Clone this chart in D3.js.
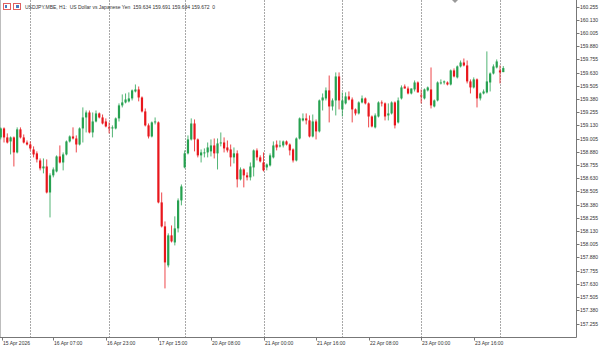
<!DOCTYPE html>
<html>
<head>
<meta charset="utf-8">
<style>
    body { margin: 0; background: #fff; }
    svg { display: block; }
    .lbl { font-family: 'Liberation Sans', Arial, sans-serif; font-size: 5px; fill: #333; }
</style>
</head>
<body>
<svg width="600" height="347"></svg>

<script src="https://d3js.org/d3.v7.min.js"></script>
<script>
    // USDJPY H1 candles, 15 Apr 15:00 .. 24 Apr 01:00 (bar index = position)
    let opens = [159.016,159.101,159.016,158.978,159.016,158.874,159.092,159.016,158.968,158.949,
        158.902,158.865,158.798,158.723,158.741,158.495,158.657,158.694,158.836,158.779,
        158.855,158.978,159.025,159.006,158.949,159.101,159.205,159.252,159.063,159.167,
        159.243,159.205,159.167,159.111,159.101,159.101,159.196,159.319,159.347,159.357,
        159.385,159.451,159.470,159.394,159.262,159.130,159.025,159.158,159.158,158.401,
        158.174,157.805,158.089,158.022,158.155,158.420,158.732,158.865,158.997,159.148,
        158.997,158.846,158.865,158.874,158.884,158.940,158.865,158.959,158.968,158.921,
        158.902,158.827,158.865,158.619,158.713,158.657,158.638,158.732,158.893,158.827,
        158.779,158.732,158.751,158.827,158.949,158.931,158.940,158.978,158.949,158.902,
        158.798,159.006,159.177,159.196,159.177,159.025,159.167,159.073,159.366,159.385,
        159.461,159.309,159.366,159.593,159.281,159.338,159.404,159.375,159.281,159.243,
        159.347,159.385,159.338,159.214,159.111,159.214,159.347,159.338,159.224,159.243,
        159.347,159.158,159.385,159.498,159.479,159.432,159.470,159.536,159.413,159.385,
        159.461,159.470,159.309,159.366,159.527,159.536,159.536,159.517,159.650,159.584,
        159.688,159.725,159.697,159.546,159.489,159.565,159.385,159.432,159.442,159.536,
        159.621,159.678,159.650,159.634]

    let highs = [159.111,159.111,159.054,159.025,159.025,159.111,159.111,159.044,158.987,158.978,
        158.931,158.884,158.817,158.817,158.808,158.676,158.732,158.846,158.940,158.874,
        158.987,159.035,159.111,159.035,159.111,159.300,159.271,159.271,159.252,159.271,
        159.252,159.233,159.196,159.158,159.130,159.205,159.338,159.423,159.432,159.442,
        159.470,159.517,159.498,159.404,159.290,159.148,159.167,159.205,159.167,158.495,
        158.221,158.108,158.183,158.269,158.439,158.571,158.893,159.035,159.196,159.186,
        159.006,158.902,158.912,158.968,158.997,159.006,159.006,159.063,159.016,158.987,
        158.949,158.921,158.893,158.732,158.723,158.685,158.779,158.902,158.912,158.846,
        158.874,158.770,158.865,158.978,158.987,158.987,158.987,158.987,158.959,158.912,
        159.016,159.205,159.243,159.243,159.224,159.233,159.186,159.375,159.432,159.489,
        159.602,159.385,159.631,159.631,159.442,159.442,159.451,159.394,159.290,159.357,
        159.413,159.394,159.347,159.224,159.243,159.357,159.366,159.347,159.338,159.357,
        159.357,159.394,159.508,159.517,159.498,159.479,159.555,159.546,159.470,159.479,
        159.498,159.678,159.375,159.546,159.565,159.555,159.546,159.659,159.669,159.697,
        159.744,159.763,159.744,159.565,159.584,159.574,159.442,159.470,159.830,159.631,
        159.707,159.754,159.697,159.691]

    let lows = [158.997,158.968,158.959,158.855,158.741,158.865,159.006,158.959,158.940,158.893,
        158.827,158.779,158.704,158.676,158.486,158.259,158.638,158.685,158.770,158.704,
        158.846,158.968,158.997,158.874,158.940,158.968,159.063,159.054,159.016,159.158,
        159.196,159.139,159.111,159.054,159.016,159.092,159.167,159.300,159.338,159.347,
        159.366,159.442,159.357,159.252,159.120,159.006,159.016,159.139,158.392,158.164,
        157.587,157.786,158.022,157.994,158.117,158.373,158.723,158.855,158.987,158.884,
        158.827,158.779,158.827,158.827,158.836,158.817,158.713,158.931,158.874,158.874,
        158.741,158.770,158.543,158.609,158.543,158.609,158.609,158.647,158.798,158.779,
        158.694,158.704,158.741,158.817,158.893,158.921,158.921,158.940,158.846,158.779,
        158.789,158.997,159.167,159.139,159.016,159.016,158.997,159.063,159.271,159.366,
        159.158,159.271,159.224,159.281,159.214,159.328,159.366,159.158,159.224,159.233,
        159.338,159.328,159.111,159.111,159.101,159.205,159.309,159.177,159.177,159.233,
        159.101,159.148,159.375,159.479,159.423,159.423,159.451,159.442,159.338,159.375,
        159.451,159.290,159.300,159.357,159.517,159.517,159.508,159.508,159.584,159.574,
        159.678,159.688,159.527,159.432,159.479,159.300,159.366,159.423,159.432,159.451,
        159.612,159.669,159.527,159.634]

    let closes = [159.101,159.016,158.968,159.016,158.874,159.092,159.016,158.968,158.949,158.912,
        158.855,158.808,158.723,158.741,158.495,158.657,158.713,158.836,158.779,158.855,
        158.978,159.025,159.006,158.949,159.101,159.205,159.252,159.063,159.167,159.243,
        159.205,159.148,159.120,159.101,159.111,159.196,159.319,159.347,159.375,159.385,
        159.461,159.470,159.394,159.262,159.130,159.025,159.158,159.167,158.401,158.174,
        157.833,158.089,158.032,158.155,158.420,158.552,158.865,158.997,159.148,158.997,
        158.846,158.874,158.874,158.921,158.940,158.865,158.959,158.968,158.912,158.893,
        158.827,158.865,158.619,158.713,158.657,158.638,158.741,158.893,158.827,158.789,
        158.704,158.760,158.846,158.940,158.921,158.940,158.978,158.949,158.893,158.798,
        159.006,159.196,159.196,159.177,159.025,159.167,159.073,159.366,159.394,159.461,
        159.309,159.366,159.593,159.366,159.366,159.404,159.375,159.281,159.243,159.347,
        159.385,159.338,159.214,159.120,159.224,159.347,159.338,159.214,159.243,159.347,
        159.130,159.366,159.489,159.479,159.432,159.479,159.536,159.442,159.404,159.470,
        159.489,159.319,159.366,159.536,159.536,159.546,159.517,159.650,159.593,159.688,
        159.725,159.697,159.546,159.489,159.565,159.385,159.432,159.451,159.546,159.621,
        159.688,159.735,159.631,159.672]

    // bar index of each day's first bar (dashed separators)
    let dayStarts = [9, 33, 56, 80, 104, 128, 152]

    let timeTickIdx = [0, 16, 32, 48, 64, 80, 96, 112, 128, 144]
    let timeTickLabels = ["15 Apr 2026", "16 Apr 07:00", "16 Apr 23:00", "17 Apr 15:00", "20 Apr 08:00",
        "21 Apr 00:00", "21 Apr 16:00", "22 Apr 08:00", "23 Apr 00:00", "23 Apr 16:00"]

    let priceTicks = [160.255, 160.130, 160.005, 159.880, 159.755, 159.630, 159.505, 159.380, 159.255,
        159.130, 159.005, 158.880, 158.755, 158.630, 158.505, 158.380, 158.255, 158.130, 158.005,
        157.880, 157.755, 157.630, 157.505, 157.380, 157.255]

    let header = "USDJPY.MBE, H1:  US Dollar vs Japanese Yen  159.634 159.691 159.634 159.672  0"

    let bullColor = "#26a150"
    let bearColor = "#e8161c"

    let svg = d3.select('body').select('svg')

    let plotRight = 576.5
    let plotBottom = 337.5

    let x = d3.scaleLinear().domain([9, 152]).range([30.3, 500])
    let y = d3.scaleLinear().domain([157.255, 160.255]).range([323.5, 6.5])

    let candles = opens.map((o, i) => ({ i: i, o: o, h: highs[i], l: lows[i], c: closes[i] }))

    // day separators
    svg.append("g")
        .selectAll("line")
        .data(dayStarts)
        .join("line")
        .attr("x1", d => Math.round(x(d)) + 0.5)
        .attr("x2", d => Math.round(x(d)) + 0.5)
        .attr("y1", 0)
        .attr("y2", plotBottom)
        .attr("stroke", "#a8a8a8")
        .attr("stroke-width", 1)
        .attr("stroke-dasharray", "2,1")

    // left border
    svg.append("line")
        .attr("x1", 0.5).attr("x2", 0.5)
        .attr("y1", 0).attr("y2", plotBottom)
        .attr("stroke", "#bdbdbd")

    // candles
    let g = svg.append("g")

    g.selectAll(".wick")
        .data(candles)
        .join("line")
        .attr("class", "wick")
        .attr("x1", d => x(d.i))
        .attr("x2", d => x(d.i))
        .attr("y1", d => y(d.h))
        .attr("y2", d => y(d.l))
        .attr("stroke", d => d.c >= d.o ? bullColor : bearColor)
        .attr("stroke-width", 0.8)

    g.selectAll(".body")
        .data(candles)
        .join("rect")
        .attr("class", "body")
        .attr("x", d => x(d.i) - 1.1)
        .attr("width", 2.2)
        .attr("y", d => y(Math.max(d.o, d.c)))
        .attr("height", d => Math.max(0.9, Math.abs(y(d.o) - y(d.c))))
        .attr("fill", d => d.c >= d.o ? bullColor : bearColor)

    // axes frame
    svg.append("line")
        .attr("x1", plotRight).attr("x2", plotRight)
        .attr("y1", 0).attr("y2", plotBottom)
        .attr("stroke", "#777")
    svg.append("line")
        .attr("x1", 0).attr("x2", plotRight)
        .attr("y1", plotBottom).attr("y2", plotBottom)
        .attr("stroke", "#777")

    // price axis
    let py = svg.append("g")
        .selectAll("g")
        .data(priceTicks)
        .join("g")
        .attr("transform", d => `translate(0, ${Math.round(y(d)) + 0.5})`)

    py.append("line")
        .attr("x1", plotRight).attr("x2", plotRight + 3)
        .attr("stroke", "#777")
    py.append("text")
        .attr("class", "lbl")
        .attr("x", plotRight + 3.5)
        .attr("dy", "0.35em")
        .text(d => d.toFixed(3))

    // time axis
    let tx = svg.append("g")
        .selectAll("g")
        .data(timeTickIdx)
        .join("g")
        .attr("transform", d => `translate(${Math.round(Math.max(1.5, x(d))) + 0.5}, 0)`)

    tx.append("line")
        .attr("y1", plotBottom).attr("y2", plotBottom + 3)
        .attr("stroke", "#777")
    tx.append("text")
        .attr("class", "lbl")
        .attr("x", 0.5)
        .attr("y", plotBottom + 7.5)
        .text((d, i) => timeTickLabels[i])

    // chart shift marker
    svg.append("path")
        .attr("d", "M452,0 L458,0 L455,3 Z")
        .attr("fill", "#999")

    // header
    let hd = svg.append("g")
    hd.append("rect").attr("x", 3.5).attr("y", 3.5).attr("width", 7).attr("height", 6)
        .attr("fill", "#fff").attr("stroke", "#e06060")
    hd.append("rect").attr("x", 5).attr("y", 5).attr("width", 2).attr("height", 3).attr("fill", "#4a78c0")
    hd.append("rect").attr("x", 13.5).attr("y", 3.5).attr("width", 7).attr("height", 6)
        .attr("fill", "#fff").attr("stroke", "#e06060")
    hd.append("rect").attr("x", 16).attr("y", 5).attr("width", 3).attr("height", 3).attr("fill", "#4a78c0")
    hd.append("text")
        .attr("class", "lbl")
        .attr("x", 25)
        .attr("y", 8.5)
        .attr("xml:space", "preserve")
        .style("white-space", "pre")
        .text(header)
</script>
</body>
</html>
